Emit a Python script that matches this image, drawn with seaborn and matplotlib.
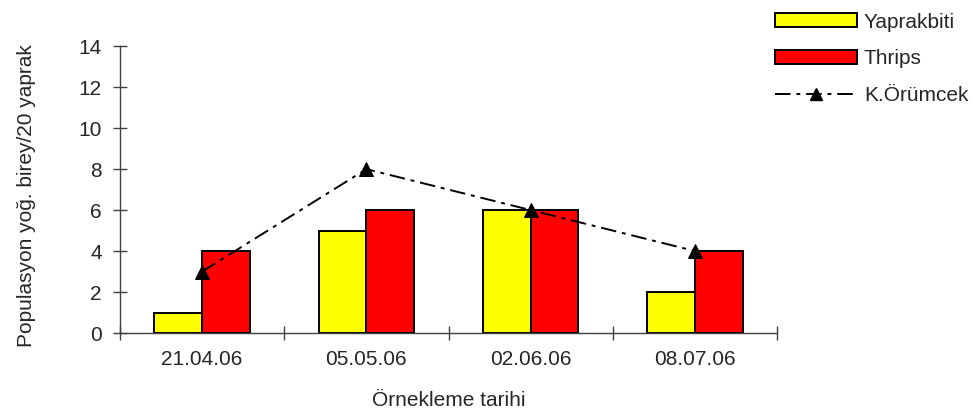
import numpy as np
import pandas as pd
import matplotlib
matplotlib.use("Agg")
import matplotlib.pyplot as plt
import seaborn as sns
from matplotlib.patches import Patch
from matplotlib.lines import Line2D

# -----------------------------
# Data
# -----------------------------

dates = ["21.04.06", "05.05.06", "02.06.06", "08.07.06"]
yaprakbiti = [1, 5, 6, 2]
thrips = [4, 6, 6, 4]
orumcek = [3, 8, 6, 4]

df = pd.DataFrame({
    "tarih": dates * 2,
    "deger": yaprakbiti + thrips,
    "tur": ["Yaprakbiti"] * 4 + ["Thrips"] * 4,
})

# -----------------------------
# Plot
# -----------------------------

sns.set_style("white")
plt.rcParams["font.family"] = ["Liberation Sans", "DejaVu Sans"]

FS = 15
AX_COLOR = "#404040"
DASH = (0, (8, 3, 2, 3))

fig = plt.figure(figsize=(9.75, 4.16), dpi=100)
ax = fig.add_axes([0.123, 0.1995, 0.674, 0.6895])

sns.barplot(data=df, x="tarih", y="deger", hue="tur",
            palette={"Yaprakbiti": "#ffff00", "Thrips": "#ff0000"},
            width=0.58, gap=0, edgecolor="black", linewidth=1.4,
            saturation=1, ax=ax, legend=False)

sns.lineplot(x=dates, y=orumcek, color="black", marker="^", markersize=10,
             markeredgecolor="black", linestyle=DASH, linewidth=1.4,
             ax=ax, zorder=5)

ax.set_xlim(-0.5, 3.5)
ax.set_ylim(0, 14)
ax.set_yticks(range(0, 15, 2))
ax.set_xticks(range(4))
ax.set_xticklabels(dates)
ax.set_xticks(np.arange(-0.5, 4, 1), minor=True)

ax.tick_params(axis="x", which="major", length=0, pad=12, labelsize=FS)
ax.tick_params(axis="x", which="minor", direction="inout", length=10,
               width=1, color=AX_COLOR, bottom=True)
ax.tick_params(axis="y", direction="inout", length=10, width=1,
               color=AX_COLOR, left=True, pad=8, labelsize=FS)

for s in ["top", "right"]:
    ax.spines[s].set_visible(False)
for s in ["left", "bottom"]:
    ax.spines[s].set_color(AX_COLOR)
    ax.spines[s].set_linewidth(1)

ax.set_xlabel("Örnekleme tarihi", fontsize=FS, labelpad=16)
ax.set_ylabel("Populasyon yoğ. birey/20 yaprak", fontsize=FS)
ax.yaxis.set_label_coords(-0.128, 0.48)

handles = [
    Patch(facecolor="#ffff00", edgecolor="black", linewidth=1.4),
    Patch(facecolor="#ff0000", edgecolor="black", linewidth=1.4),
    Line2D([], [], color="black", marker="^", markersize=9,
           linestyle=DASH, linewidth=1.4),
]
fig.legend(handles, ["Yaprakbiti", "Thrips", "K.Örümcek"],
           loc="upper left", bbox_to_anchor=(0.776, 1.015),
           frameon=False, fontsize=FS, handlelength=3.9, handleheight=0.65,
           handletextpad=0.35, labelspacing=0.85)

fig.savefig("out.png", dpi=100)
